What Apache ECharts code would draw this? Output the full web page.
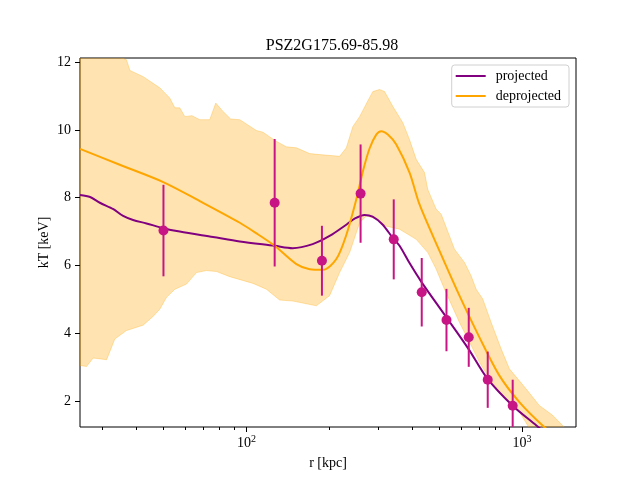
<!DOCTYPE html>
<html>
<head>
<meta charset="utf-8">
<script src="https://cdn.jsdelivr.net/npm/echarts@6.0.0/dist/echarts.min.js"></script>
<style>
  html, body { margin: 0; padding: 0; background: #fff; }
  #main { width: 640px; height: 480px; }
</style>
</head>
<body>
<div id="main"></div>
<script>
var FONT = 'Liberation Serif';

// projected profile (purple line)
var projR = [24.9, 27.1, 29.4, 32.9, 35.7, 38.8, 43.4, 49.9, 57.3, 75.7, 94.6, 126.6, 147.2, 173.9, 200.3, 230.9, 246.9, 268.3, 286.8, 311.7, 338.9, 359.3, 390.6, 431.7, 530.4, 638.9, 748.7, 922.3, 1127, 1300];
var projT = [8.08, 8.02, 7.85, 7.66, 7.46, 7.34, 7.24, 7.10, 7.00, 6.84, 6.71, 6.58, 6.51, 6.63, 6.87, 7.21, 7.38, 7.49, 7.44, 7.21, 6.82, 6.58, 6.07, 5.51, 4.48, 3.54, 2.66, 1.87, 1.28, 0.86];

// deprojected profile (orange line)
var deprR = [24.9, 34.7, 49.9, 67.7, 94.6, 110, 126.6, 151.8, 169.6, 189.5, 211.9, 230.3, 250.4, 264.6, 279.7, 295.8, 308.4, 325.8, 349.6, 390.6, 424.6, 501.7, 592.7, 700.4, 827.7, 977.7, 1187, 1400];
var deprT = [9.44, 8.97, 8.46, 7.90, 7.26, 6.92, 6.58, 6.04, 5.89, 5.87, 6.19, 6.90, 7.95, 8.78, 9.45, 9.86, 9.96, 9.86, 9.57, 8.74, 7.80, 6.43, 5.11, 3.88, 2.75, 1.97, 1.28, 0.80];

// deprojected uncertainty band
var bandUpR = [24.9, 36.7, 37.8, 42.2, 48.5, 52.7, 55.0, 57.3, 59.8, 63.4, 67.7, 73.6, 77.4, 82.1, 87.7, 94.6, 108.7, 114.8, 128.4, 139.6, 151.8, 169.6, 184.4, 217.8, 230.3, 243.4, 257.4, 272.2, 287.5, 304.1, 317.0, 339.8, 369.3, 390.6, 413.0, 442.6, 455.0, 488.0, 508.9, 545.3, 568.5, 618.0, 653.6, 681.4, 720.0, 772.2, 839.4, 899.5, 1034, 1155, 1291, 1403, 1547];
var bandUpT = [12.6, 12.07, 11.75, 11.57, 11.24, 10.94, 10.65, 10.65, 10.39, 10.42, 10.30, 10.30, 10.79, 10.55, 10.32, 10.30, 9.98, 9.93, 9.66, 9.50, 9.47, 9.30, 9.27, 9.22, 9.47, 10.10, 10.39, 10.77, 11.13, 11.19, 11.13, 10.69, 10.21, 9.71, 9.13, 8.74, 8.24, 7.66, 7.51, 6.87, 6.48, 6.09, 5.69, 5.30, 5.01, 4.32, 3.54, 2.95, 2.36, 1.87, 1.58, 1.28, 0.95];
var bandLoR = [24.9, 26.3, 27.8, 31.1, 33.3, 36.7, 42.2, 45.9, 48.5, 51.3, 55.0, 60.6, 65.9, 71.6, 77.9, 87.0, 105.7, 118.1, 132.0, 147.5, 179.3, 200.3, 217.8, 236.8, 257.4, 272.2, 295.8, 321.6, 359.3, 413.0, 455.0, 488.0, 523.1, 592.7, 644.5, 700.4, 761.3, 827.7, 899.5, 977.7, 1048, 1155];
var bandLoT = [3.05, 3.02, 3.27, 3.22, 3.83, 4.08, 4.24, 4.50, 4.71, 5.06, 5.30, 5.45, 5.79, 5.85, 5.82, 5.67, 5.47, 5.30, 4.98, 4.95, 4.81, 5.11, 5.79, 6.38, 7.26, 7.46, 7.38, 7.16, 7.07, 6.77, 6.38, 5.89, 5.30, 4.32, 3.74, 3.15, 2.66, 2.26, 1.97, 1.68, 1.28, 0.90];

// measured points with symmetric errors
var ptR = [50, 126.6, 187.9, 259.5, 342.3, 432.5, 531.8, 640.5, 750.6, 924.6];
var ptT = [7.03, 7.85, 6.14, 8.12, 6.77, 5.21, 4.39, 3.88, 2.63, 1.86];
var ptErr = [1.35, 1.88, 1.03, 1.45, 1.18, 1.01, 0.92, 0.87, 0.83, 0.77];

// axis ticks
var xMajor = [100, 1000];
var xMinor = [30, 40, 50, 60, 70, 80, 90, 200, 300, 400, 500, 600, 700, 800, 900];
var yTicks = [2, 4, 6, 8, 10, 12];

var xMin = 24.9, xMax = 1569, yMin = 1.235, yMax = 12.12;

function pairs(a, b) {
    return a.map(function (v, i) { return [v, b[i]]; });
}

var errData = ptR.map(function (r, i) { return [r, ptT[i], ptErr[i]]; });

var option = {
    animation: false,
    backgroundColor: '#fff',
    title: {
        text: 'PSZ2G175.69-85.98',
        left: 327, top: 33, textAlign: 'center',
        textStyle: { fontFamily: FONT, fontSize: 16, fontWeight: 'normal', color: '#000' }
    },
    legend: {
        data: ['projected', 'deprojected'],
        orient: 'vertical',
        right: 71, top: 65,
        icon: 'rect', itemWidth: 30, itemHeight: 2, itemGap: 6,
        padding: [4, 8, 4, 4],
        borderColor: '#d0d0d0', borderWidth: 1, borderRadius: 3,
        backgroundColor: 'rgba(255,255,255,0.8)',
        textStyle: { fontFamily: FONT, fontSize: 14, color: '#000', padding: [0, 0, 0, 5] }
    },
    grid: {
        left: 80, right: 64, top: 58, bottom: 53,
        show: true, borderColor: '#000', borderWidth: 1, backgroundColor: 'transparent'
    },
    xAxis: [{
        type: 'log', logBase: 10, min: xMin, max: xMax,
        name: 'r [kpc]', nameLocation: 'middle', nameGap: 29,
        nameTextStyle: { fontFamily: FONT, fontSize: 14, color: '#000' },
        axisLine: { show: false },
        axisTick: { show: true, customValues: xMajor, length: 5, lineStyle: { color: '#000' } },
        axisLabel: {
            customValues: xMajor, margin: 7, color: '#000',
            formatter: function (v) { return '{b|10}{s|' + Math.round(Math.log10(v)) + '}'; },
            rich: {
                b: { fontFamily: FONT, fontSize: 14, color: '#000' },
                s: { fontFamily: FONT, fontSize: 10, color: '#000', padding: [0, 0, 8, 0] }
            }
        },
        splitLine: { show: false }
    }, {
        type: 'log', logBase: 10, min: xMin, max: xMax, position: 'bottom',
        axisLine: { show: false },
        axisTick: { show: true, customValues: xMinor, length: 3, lineStyle: { color: '#000' } },
        axisLabel: { show: false },
        splitLine: { show: false }
    }],
    yAxis: {
        type: 'value', min: yMin, max: yMax,
        name: 'kT [keV]', nameLocation: 'middle', nameGap: 29, nameMoveOverlap: false,
        nameTextStyle: { fontFamily: FONT, fontSize: 14, color: '#000' },
        axisLine: { show: false },
        axisTick: { show: true, customValues: yTicks, length: 5, lineStyle: { color: '#000' } },
        axisLabel: { customValues: yTicks, margin: 9, fontFamily: FONT, fontSize: 14, color: '#000' },
        splitLine: { show: false }
    },
    series: [{
        type: 'custom',
        clip: true,
        silent: true,
        data: [[100, 5]],
        renderItem: function (params, api) {
            var pts = [];
            bandUpR.forEach(function (r, i) { pts.push(api.coord([r, bandUpT[i]])); });
            for (var i = bandLoR.length - 1; i >= 0; i--) {
                pts.push(api.coord([bandLoR[i], bandLoT[i]]));
            }
            return {
                type: 'polygon',
                shape: { points: pts },
                style: { fill: 'rgba(255,165,0,0.3)', stroke: 'rgba(255,165,0,0.3)', lineWidth: 1 }
            };
        },
        z: 1
    }, {
        name: 'projected',
        type: 'line',
        data: pairs(projR, projT),
        showSymbol: false,
        smooth: 0.3,
        color: '#800080',
        lineStyle: { color: '#800080', width: 2 },
        z: 3
    }, {
        name: 'deprojected',
        type: 'line',
        data: pairs(deprR, deprT),
        showSymbol: false,
        smooth: 0.3,
        color: '#FFA500',
        lineStyle: { color: '#FFA500', width: 2 },
        z: 3
    }, {
        type: 'custom',
        clip: true,
        data: errData,
        encode: { x: 0, y: 1 },
        renderItem: function (params, api) {
            var r = api.value(0), t = api.value(1), e = api.value(2);
            var lo = api.coord([r, t - e]), hi = api.coord([r, t + e]);
            return {
                type: 'line',
                shape: { x1: lo[0], y1: lo[1], x2: hi[0], y2: hi[1] },
                style: { stroke: '#C71585', lineWidth: 2 }
            };
        },
        z: 4
    }, {
        type: 'scatter',
        data: pairs(ptR, ptT),
        symbolSize: 10,
        itemStyle: { color: '#C71585', opacity: 1 },
        z: 5
    }]
};

var myChart = echarts.init(document.getElementById('main'));
myChart.setOption(option);
</script>
</body>
</html>
